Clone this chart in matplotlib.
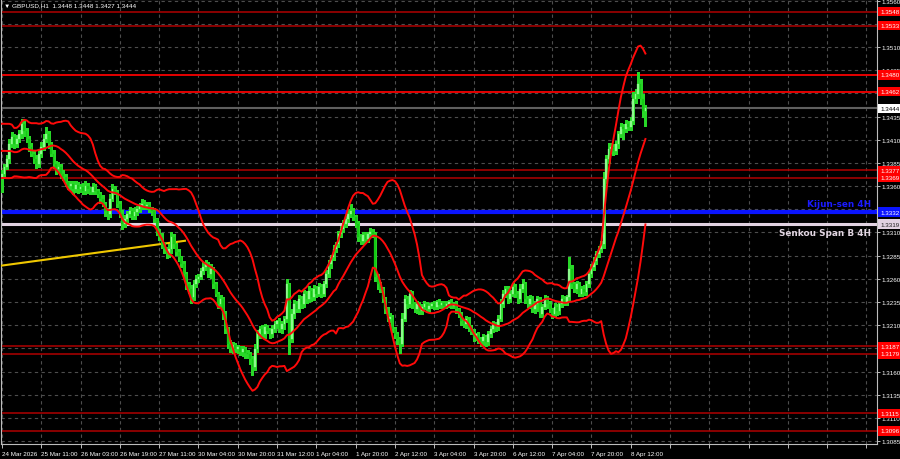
import numpy as np
import pandas as pd
import matplotlib
matplotlib.use('Agg')
import matplotlib.pyplot as plt
from matplotlib import font_manager
from matplotlib.transforms import blended_transform_factory

# ---------------- data (GBPUSD H1) ----------------
first_open = 1.3368
closes = [
    1.3373, 1.3381, 1.3389, 1.3405, 1.3413, 1.3405, 1.3411, 1.3416, 1.3427, 1.3419,
    1.3411, 1.3402, 1.3395, 1.3389, 1.3384, 1.3395, 1.3402, 1.3411, 1.3416, 1.3405,
    1.3395, 1.3384, 1.3378, 1.3381, 1.3373, 1.3370, 1.3364, 1.3360, 1.3362, 1.3357,
    1.3361, 1.3357, 1.3359, 1.3355, 1.3360, 1.3357, 1.3354, 1.3359, 1.3355, 1.3351,
    1.3346, 1.3341, 1.3333, 1.3330, 1.3346, 1.3357, 1.3354, 1.3341, 1.3330, 1.3319,
    1.3324, 1.3330, 1.3333, 1.3328, 1.3332, 1.3335, 1.3339, 1.3341, 1.3338, 1.3340,
    1.3335, 1.3333, 1.3324, 1.3311, 1.3305, 1.3297, 1.3292, 1.3287, 1.3292, 1.3305,
    1.3297, 1.3289, 1.3283, 1.3276, 1.3265, 1.3254, 1.3249, 1.3240, 1.3254, 1.3260,
    1.3262, 1.3268, 1.3273, 1.3276, 1.3265, 1.3271, 1.3254, 1.3244, 1.3233, 1.3238,
    1.3222, 1.3206, 1.3190, 1.3184, 1.3189, 1.3184, 1.3186, 1.3181, 1.3184, 1.3180,
    1.3179, 1.3173, 1.3165, 1.3184, 1.3200, 1.3206, 1.3200, 1.3208, 1.3204, 1.3200,
    1.3206, 1.3211, 1.3214, 1.3206, 1.3211, 1.3217, 1.3254, 1.3195, 1.3222, 1.3233,
    1.3227, 1.3238, 1.3233, 1.3244, 1.3238, 1.3247, 1.3240, 1.3249, 1.3244, 1.3251,
    1.3244, 1.3254, 1.3265, 1.3276, 1.3283, 1.3292, 1.3297, 1.3308, 1.3314, 1.3319,
    1.3324, 1.3330, 1.3333, 1.3327, 1.3319, 1.3305, 1.3301, 1.3307, 1.3303, 1.3308,
    1.3311, 1.3308, 1.3262, 1.3254, 1.3249, 1.3238, 1.3227, 1.3217, 1.3219, 1.3206,
    1.3200, 1.3195, 1.3190, 1.3217, 1.3238, 1.3233, 1.3244, 1.3233, 1.3227, 1.3233,
    1.3225, 1.3230, 1.3233, 1.3227, 1.3231, 1.3233, 1.3230, 1.3235, 1.3232, 1.3234,
    1.3231, 1.3233, 1.3235, 1.3231, 1.3233, 1.3227, 1.3222, 1.3214, 1.3211, 1.3217,
    1.3208, 1.3203, 1.3197, 1.3200, 1.3195, 1.3193, 1.3197, 1.3192, 1.3200, 1.3206,
    1.3211, 1.3208, 1.3217, 1.3233, 1.3244, 1.3249, 1.3238, 1.3244, 1.3251, 1.3244,
    1.3238, 1.3249, 1.3254, 1.3238, 1.3233, 1.3238, 1.3227, 1.3233, 1.3238, 1.3222,
    1.3230, 1.3238, 1.3233, 1.3227, 1.3222, 1.3230, 1.3225, 1.3233, 1.3238, 1.3235,
    1.3240, 1.3271, 1.3254, 1.3249, 1.3254, 1.3244, 1.3249, 1.3246, 1.3254, 1.3265,
    1.3273, 1.3279, 1.3287, 1.3292, 1.3297, 1.3368, 1.3389, 1.3400, 1.3402, 1.3398,
    1.3405, 1.3416, 1.3424, 1.3422, 1.3427, 1.3424, 1.3430, 1.3454, 1.3459, 1.3470,
    1.3454, 1.3441, 1.3444,
]
upper_wick_pips = [
    4, 3, 5, 6, 5, 3, 4, 5, 5, 3, 4, 3, 4, 3, 5, 4, 6, 5, 8, 3,
    3, 4, 3, 5, 3, 4, 3, 2, 4, 3, 4, 3, 3, 4, 5, 3, 2, 4, 3, 2,
    3, 4, 2, 3, 6, 5, 3, 2, 3, 4, 5, 3, 4, 3, 5, 4, 3, 5, 4, 3,
    3, 2, 3, 2, 3, 4, 3, 2, 5, 6, 3, 2, 3, 2, 3, 2, 3, 4, 5, 4,
    3, 4, 5, 4, 2, 5, 2, 3, 2, 4, 2, 3, 2, 4, 3, 2, 3, 2, 3, 2,
    3, 2, 4, 6, 5, 3, 4, 3, 2, 3, 4, 3, 2, 4, 3, 3, 6, 2, 5, 4,
    3, 4, 3, 4, 3, 5, 3, 4, 3, 4, 3, 4, 5, 4, 3, 4, 3, 4, 3, 4,
    4, 5, 8, 3, 2, 3, 3, 4, 3, 3, 4, 3, 2, 3, 3, 2, 2, 3, 4, 2,
    2, 3, 2, 6, 5, 3, 4, 3, 2, 3, 2, 3, 3, 2, 3, 2, 3, 2, 3, 2,
    2, 3, 2, 3, 2, 3, 2, 2, 3, 3, 2, 2, 3, 2, 3, 2, 3, 2, 4, 3,
    3, 2, 4, 5, 4, 3, 3, 4, 5, 3, 3, 5, 6, 3, 3, 4, 3, 3, 3, 2,
    3, 4, 3, 3, 2, 4, 3, 3, 4, 3, 3, 12, 4, 3, 4, 3, 3, 4, 4, 3,
    3, 4, 3, 3, 4, 7, 5, 6, 4, 3, 4, 3, 4, 3, 4, 3, 4, 8, 6, 13,
    6, 5, 3,
]
lower_wick_pips = [
    14, 4, 3, 4, 3, 4, 3, 3, 4, 5, 3, 4, 3, 4, 5, 3, 4, 3, 3, 4,
    3, 4, 5, 3, 4, 3, 4, 3, 4, 5, 3, 4, 3, 4, 3, 4, 3, 3, 4, 3,
    4, 3, 5, 6, 3, 2, 3, 4, 3, 5, 3, 4, 3, 3, 4, 3, 3, 4, 3, 3,
    3, 4, 3, 4, 3, 4, 4, 5, 3, 4, 4, 3, 4, 3, 4, 5, 4, 6, 3, 3,
    3, 2, 3, 4, 3, 4, 4, 3, 4, 3, 5, 4, 5, 3, 4, 3, 4, 3, 4, 5,
    4, 5, 9, 3, 3, 4, 3, 4, 3, 4, 3, 3, 4, 3, 4, 5, 4, 16, 3, 4,
    3, 3, 4, 3, 4, 3, 4, 3, 4, 3, 4, 3, 3, 3, 4, 3, 3, 3, 3, 3,
    3, 3, 3, 4, 3, 4, 3, 3, 4, 3, 3, 3, 4, 5, 3, 3, 4, 3, 4, 3,
    4, 5, 10, 3, 3, 4, 3, 4, 3, 4, 3, 3, 3, 3, 3, 3, 3, 3, 3, 3,
    3, 3, 3, 3, 3, 4, 3, 4, 3, 4, 4, 3, 4, 3, 4, 5, 4, 5, 3, 3,
    3, 4, 3, 3, 3, 4, 4, 3, 3, 4, 4, 3, 3, 4, 3, 4, 3, 4, 8, 3,
    3, 3, 4, 3, 4, 3, 4, 3, 3, 3, 3, 3, 4, 3, 4, 3, 3, 3, 3, 3,
    3, 3, 3, 3, 3, 4, 5, 4, 4, 5, 3, 4, 3, 11, 4, 4, 4, 3, 4, 4,
    5, 6, 16,
]
# closes of the 19 hours before the window (Bollinger warm-up only)
history_closes = [1.3380, 1.3392, 1.3405, 1.3418, 1.3425, 1.3410, 1.3398, 1.3388, 1.3402, 1.3415,
                  1.3420, 1.3408, 1.3395, 1.3385, 1.3378, 1.3390, 1.3402, 1.3395, 1.3380]
bb_period = 20
bb_dev = 2.0

time_labels = ['24 Mar 2026', '25 Mar 11:00', '26 Mar 03:00', '26 Mar 19:00', '27 Mar 11:00',
               '30 Mar 04:00', '30 Mar 20:00', '31 Mar 12:00', '1 Apr 04:00', '1 Apr 20:00',
               '2 Apr 12:00', '3 Apr 04:00', '3 Apr 20:00', '6 Apr 12:00', '7 Apr 04:00',
               '7 Apr 20:00', '8 Apr 12:00']
bars_per_label = 16

red_levels = [1.3548, 1.3533, 1.3480, 1.3462, 1.3377, 1.3369, 1.3187, 1.3179, 1.3115, 1.3096]
strong_levels = [1.3480, 1.3462]
kijun_4h = 1.3332
senkou_b_4h = 1.3319
last_price = 1.3444
trend_bars = [-0.8, 74.5]
trend_prices = [1.3274, 1.3301]
title = '\u25bc GBPUSD,H1  1.3448 1.3448 1.3427 1.3444'

# ---------------- derived ----------------
c = np.array(closes)
o = np.array([first_open] + closes[:-1])
hi = np.maximum(o, c) + np.array(upper_wick_pips) * 1e-4
lo = np.minimum(o, c) - np.array(lower_wick_pips) * 1e-4
n = len(c)
x = np.arange(n)

s = pd.Series(history_closes + closes)
mid = s.rolling(bb_period).mean().values[-n:]
sd = s.rolling(bb_period).std(ddof=0).values[-n:]
up_b = mid + bb_dev * sd
dn_b = mid - bb_dev * sd

# fonts
names = {f.name for f in font_manager.fontManager.ttflist}
small_font = ['Liberation Sans', 'DejaVu Sans']
if 'Liberation Sans Narrow' in names:
    cap_font, cap_size = ['Liberation Sans Narrow', 'DejaVu Sans'], 8.4
else:
    cap_font, cap_size = ['DejaVu Sans'], 6.4
TS = 4.5  # tick label size

# ---------------- figure ----------------
W, H = 900, 460
fig = plt.figure(figsize=(9, 4.6), dpi=100, facecolor='black')
ax = fig.add_axes([1 / W, 15 / H, 876 / W, 445 / H], facecolor='black')
ax.set_xlim(-0.4, 356.3)
ax.set_ylim(1.30818, 1.35618)

# grid
yt = np.round(np.arange(1.3085, 1.35601, 0.0025), 4)
xt = np.arange(0, 357, bars_per_label)
ax.set_yticks(yt)
ax.set_xticks(xt)
ax.grid(True, color='#4d4d4d', linestyle=(0, (3, 3)), linewidth=0.8)
ax.set_axisbelow(True)

# horizontal levels
for lv in red_levels:
    if lv in strong_levels:
        ax.axhline(lv, color='#e60000', lw=1.4, zorder=2)
    else:
        ax.axhline(lv, color='#b00000', lw=1.1, zorder=2)
ax.axhline(last_price, color='#5f5f5f', lw=1.5, zorder=2)
ax.axhline(kijun_4h, color='#0a14ff', lw=3.0, zorder=2)
ax.axhline(senkou_b_4h, color='#e2d2e2', lw=2.2, zorder=2)

# trend line
ax.plot(trend_bars, trend_prices, color='#f0c800', lw=1.5, zorder=3)

# candles
bull = c >= o
body_col = np.where(bull, '#8dfa8d', '#14c814')
ax.vlines(x, lo, hi, colors='#28d828', lw=1.0, zorder=4, antialiased=False)
ax.bar(x, np.maximum(np.abs(c - o), 0.00008), bottom=np.minimum(o, c), width=0.72,
       color=body_col, edgecolor=body_col, linewidth=0.2, zorder=5)

# Bollinger bands
for band in (up_b, mid, dn_b):
    ax.plot(x, band, color='#ff0a0a', lw=1.4, zorder=6)

# axes styling
for sp in ax.spines.values():
    sp.set_color('#bdbdbd')
    sp.set_linewidth(0.8)
ax.yaxis.tick_right()
ax.tick_params(axis='y', colors='#bdbdbd', labelcolor='white', labelsize=TS, length=2,
               width=0.7, pad=1.5)
ax.tick_params(axis='x', colors='#bdbdbd', labelcolor='white', labelsize=TS, length=3,
               width=0.7, pad=2)

special = red_levels + [kijun_4h, senkou_b_4h, last_price]
ylabels = []
for v in yt:
    if min(abs(v - sv) for sv in special) < 0.0004:
        ylabels.append('')
    else:
        ylabels.append(f'{v:.4f}')
ax.set_yticklabels(ylabels, family=small_font)
xlabels = [time_labels[i] if i < len(time_labels) else '' for i in range(len(xt))]
ax.set_xticklabels(xlabels, family=small_font)
for lbl in ax.get_xticklabels():
    lbl.set_ha('left')

# price boxes on right axis
tr = blended_transform_factory(ax.transAxes, ax.transData)
def price_box(v, fc, tc):
    ax.text(1.0 + 3.5 / 876, v, f'{v:.4f}', transform=tr, ha='left', va='center',
            fontsize=TS, color=tc, clip_on=False, zorder=10, family=small_font,
            bbox=dict(boxstyle='square,pad=0.35', fc=fc, ec='none'))

for lv in red_levels:
    price_box(lv, '#ff0000', 'white')
price_box(last_price, 'white', 'black')
price_box(kijun_4h, '#0a14ff', 'white')
price_box(senkou_b_4h, '#e2d2e2', '#202020')

# indicator captions
ax.text(0.993, kijun_4h + 0.00045, 'Kijun-sen 4H', transform=tr, ha='right', va='bottom',
        fontsize=cap_size, fontweight='bold', color='#1a1aff', zorder=10, family=cap_font)
ax.text(0.993, senkou_b_4h - 0.00045, 'Senkou Span B 4H', transform=tr, ha='right', va='top',
        fontsize=cap_size, fontweight='bold', color='#e2d6e2', zorder=10, family=cap_font)

fig.text(4 / W, 1 - 6 / H, title, ha='left', va='center', color='white', fontsize=4.6,
         family=small_font)

fig.savefig('out.png', dpi=100, facecolor='black')
